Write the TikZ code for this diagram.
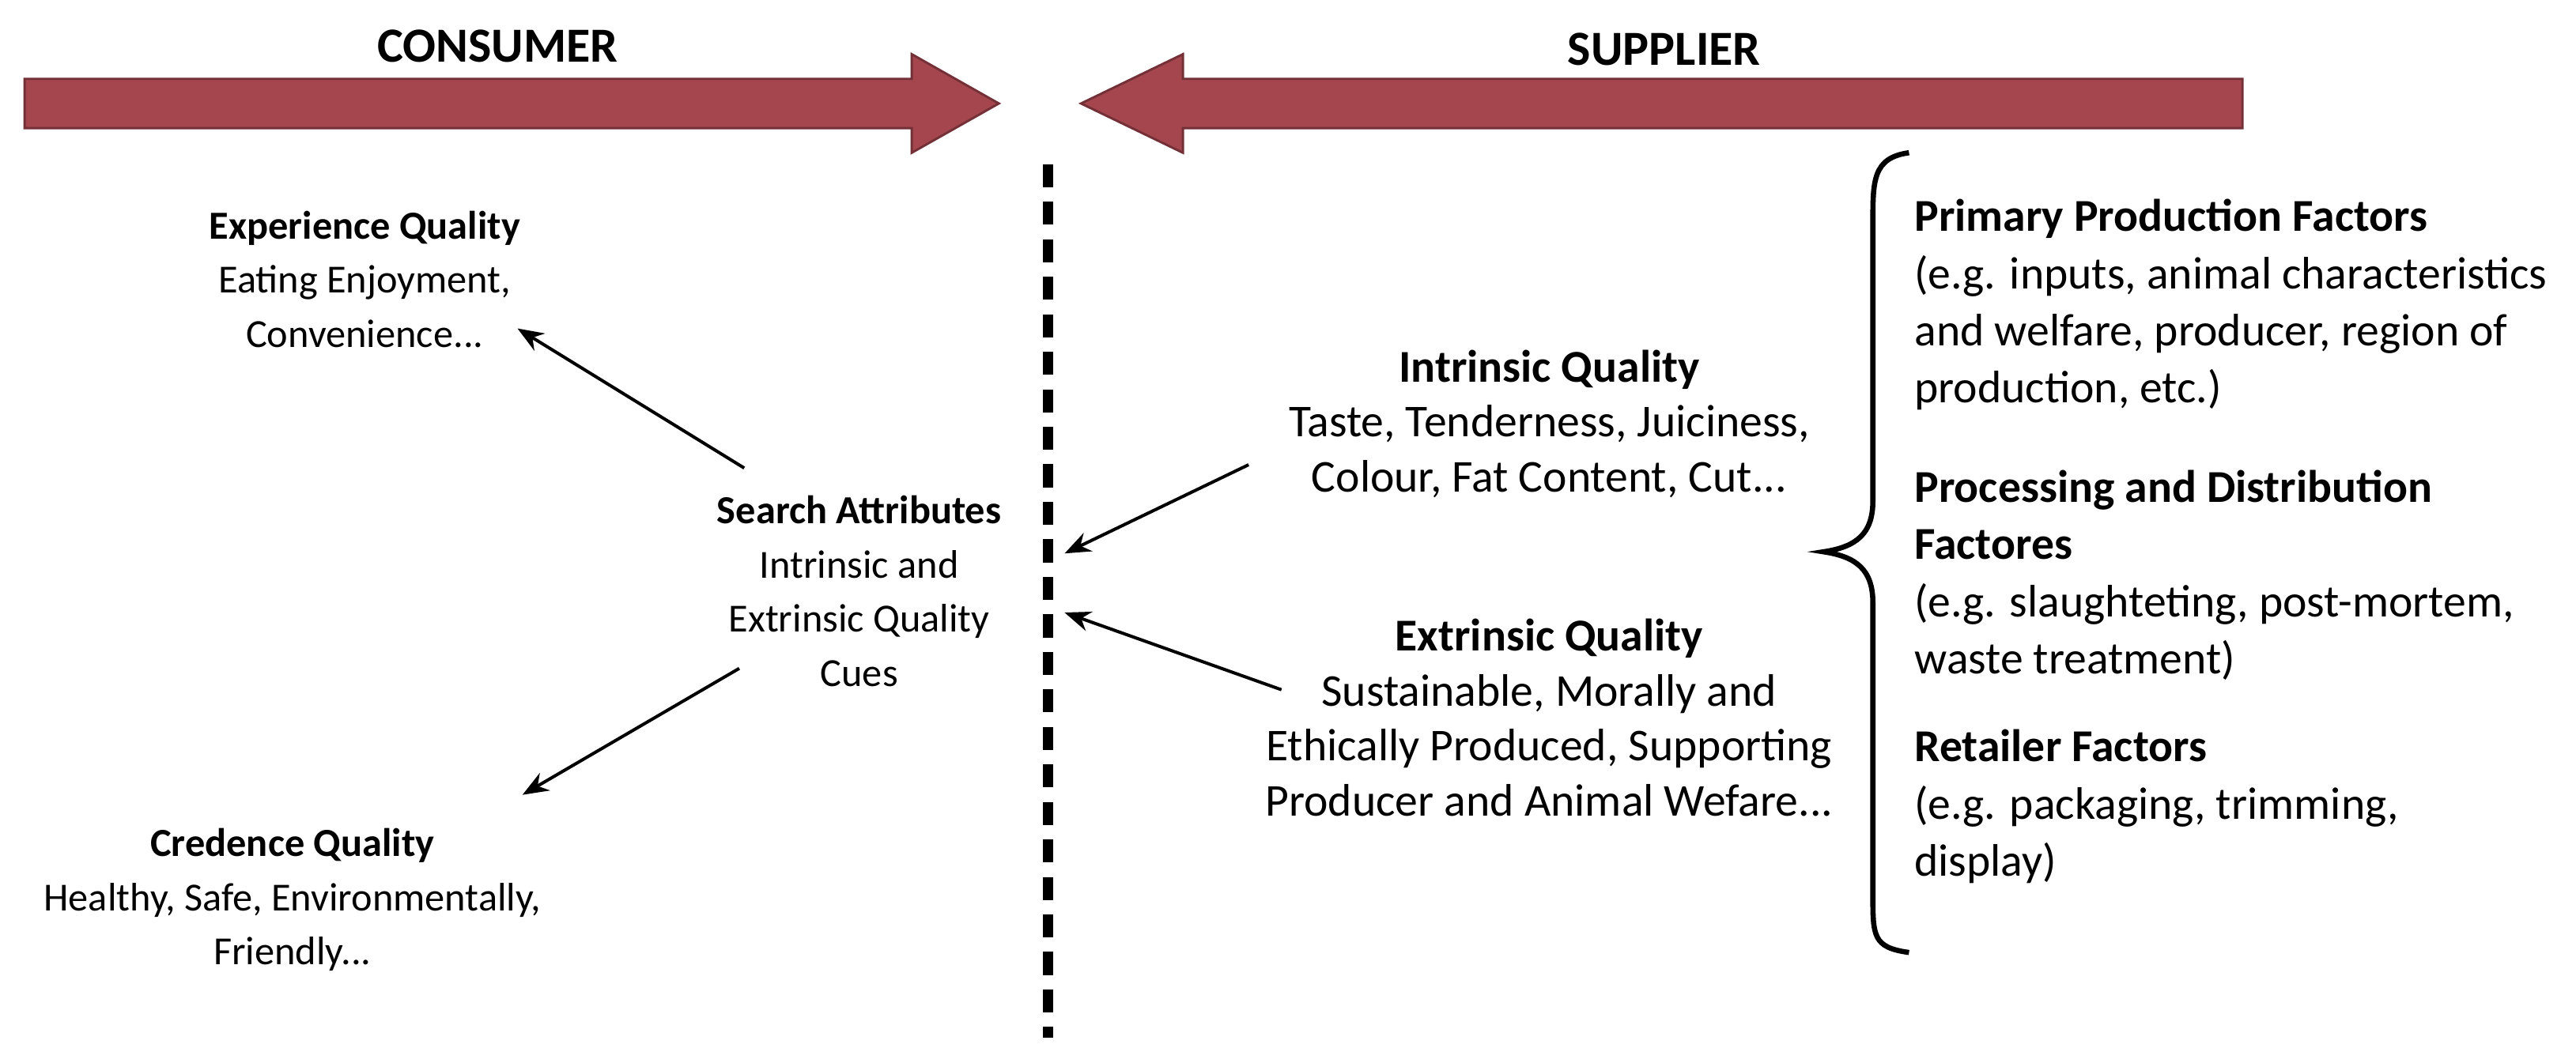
\documentclass[tikz,border=0pt]{standalone}
\usepackage{fontspec}
\setmainfont{Carlito}
\usetikzlibrary{arrows.meta}
\begin{document}
\begin{tikzpicture}[x=0.02cm,y=-0.02cm,
  txt/.style={align=center,font=\fontsize{13.8}{18.8}\selectfont,inner sep=0pt},
  rtxt/.style={align=center,font=\fontsize{15.8}{19}\selectfont,inner sep=0pt},
  ltxt/.style={align=left,font=\fontsize{15.8}{19.8}\selectfont,inner sep=0pt,anchor=north west},
  bigarrow/.style={fill=arrowred,draw=arrowred!70!black,line width=0.8pt},
  conn/.style={-{Stealth[length=9pt,width=7pt]},line width=1.1pt}]
\definecolor{arrowred}{HTML}{A5464E}
\useasboundingbox (0,0) rectangle (1568,647);
\draw[bigarrow] (15,48) -- (555,48) -- (555,33) -- (608,63) -- (555,93) -- (555,78) -- (15,78) -- cycle;
\draw[bigarrow] (1365,48) -- (720,48) -- (720,33) -- (658,63) -- (720,93) -- (720,78) -- (1365,78) -- cycle;
\node[font=\fontsize{17}{20}\selectfont\bfseries] (cons) at (303,28) {CONSUMER};
\node[font=\fontsize{17}{20}\selectfont\bfseries] (supp) at (1013,30) {SUPPLIER};
\coordinate (ltop) at (638,100); \coordinate (lbot) at (638,632);
\draw[line width=3.5pt,dash pattern=on 8pt off 5pt] (ltop) -- (lbot);
\node[txt] (exp) at (222,170) {\textbf{Experience Quality}\\Eating Enjoyment,\\Convenience...};
\node[txt] (search) at (523,360) {\textbf{Search Attributes}\\Intrinsic and\\Extrinsic Quality\\Cues};
\node[txt] (cred) at (178,548) {\textbf{Credence Quality}\\Healthy, Safe, Environmentally,\\Friendly...};
\node[rtxt] (intr) at (943,258) {\textbf{Intrinsic Quality}\\Taste, Tenderness, Juiciness,\\Colour, Fat Content, Cut...};
\node[rtxt] (extr) at (943,437) {\textbf{Extrinsic Quality}\\Sustainable, Morally and\\Ethically Produced, Supporting\\Producer and Animal Wefare...};
\node[ltxt] (prim) at (1165,121) {\textbf{Primary Production Factors}\\(e.g. inputs, animal characteristics\\and welfare, producer, region of\\production, etc.)};
\node[ltxt] (proc) at (1165,286) {\textbf{Processing and Distribution}\\\textbf{Factores}\\(e.g. slaughteting, post-mortem,\\waste treatment)};
\node[ltxt] (ret) at (1165,444) {\textbf{Retailer Factors}\\(e.g. packaging, trimming,\\display)};
\coordinate (s1) at (453,285); \coordinate (e1) at (315,200);
\coordinate (s2) at (450,407); \coordinate (e2) at (318,484);
\coordinate (s3) at (760,283); \coordinate (e3) at (648,337);
\coordinate (s4) at (780,420); \coordinate (e4) at (648,373);
\draw[conn] (s1) -- (e1);
\draw[conn] (s2) -- (e2);
\draw[conn] (s3) -- (e3);
\draw[conn] (s4) -- (e4);
\draw[line width=1.8pt] (1162,93) .. controls (1140,96) and (1140,110) .. (1140,135) -- (1140,305) .. controls (1140,325) and (1130,333) .. (1110,336) .. controls (1130,339) and (1140,347) .. (1140,367) -- (1140,545) .. controls (1140,570) and (1140,577) .. (1162,580);
\end{tikzpicture}
\end{document}
